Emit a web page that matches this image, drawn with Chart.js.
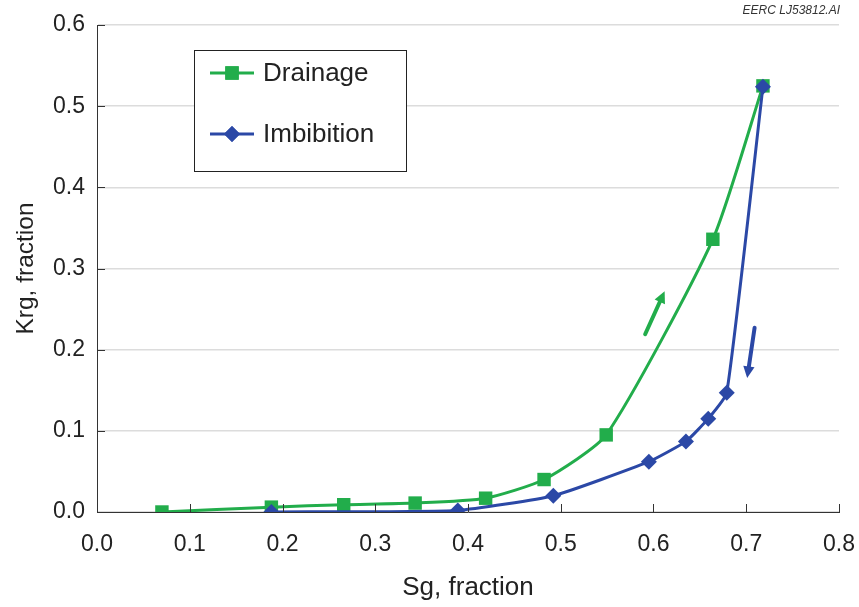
<!DOCTYPE html>
<html lang="en">
<head>
    <meta charset="UTF-8">
    <title>Krg vs Sg</title>
    <script src="https://cdn.jsdelivr.net/npm/chart.js"></script>
    <style>
        html, body { margin: 0; padding: 0; background: #fff; }
        #wrap { position: relative; width: 859px; height: 607px; }
    </style>
</head>
<body>
    <div id="wrap">
        <canvas id="krgChart" width="859" height="607"></canvas>
    </div>

    <script>
        // Drainage curve (Sg, Krg)
        const drainageSg  = [0.070, 0.188, 0.266, 0.343, 0.419, 0.482, 0.549, 0.664, 0.718];
        const drainageKrg = [0.000, 0.006, 0.009, 0.011, 0.017, 0.040, 0.095, 0.336, 0.525];

        // Imbibition curve (Sg, Krg)
        const imbibitionSg  = [0.188, 0.389, 0.492, 0.595, 0.635, 0.659, 0.679, 0.718];
        const imbibitionKrg = [0.000, 0.002, 0.020, 0.062, 0.087, 0.115, 0.147, 0.524];

        const xTicks = [0.0, 0.1, 0.2, 0.3, 0.4, 0.5, 0.6, 0.7, 0.8];
        const yTicks = [0.0, 0.1, 0.2, 0.3, 0.4, 0.5, 0.6];

        // direction arrows, in data units: [x0, y0, x1, y1]
        const drainageArrow   = [0.591, 0.219, 0.612, 0.272];
        const imbibitionArrow = [0.709, 0.227, 0.701, 0.165];

        const GREEN = '#22ad4b';
        const BLUE = '#2b48a6';
        const FONT = 'Liberation Sans, Arial, sans-serif';

        const toPoints = (xs, ys) => xs.map((x, i) => ({ x: x, y: ys[i] }));

        function drawArrow(ctx, chart, a, color) {
            const xs = chart.scales.x, ys = chart.scales.y;
            const x0 = xs.getPixelForValue(a[0]), y0 = ys.getPixelForValue(a[1]);
            const x1 = xs.getPixelForValue(a[2]), y1 = ys.getPixelForValue(a[3]);
            const ang = Math.atan2(y1 - y0, x1 - x0);
            const head = 13;
            ctx.save();
            ctx.strokeStyle = color;
            ctx.fillStyle = color;
            ctx.lineWidth = 4;
            ctx.lineCap = 'round';
            ctx.beginPath();
            ctx.moveTo(x0, y0);
            ctx.lineTo(x1 - Math.cos(ang) * head * 0.7, y1 - Math.sin(ang) * head * 0.7);
            ctx.stroke();
            ctx.beginPath();
            ctx.moveTo(x1, y1);
            ctx.lineTo(x1 - head * Math.cos(ang - 0.45), y1 - head * Math.sin(ang - 0.45));
            ctx.lineTo(x1 - head * Math.cos(ang + 0.45), y1 - head * Math.sin(ang + 0.45));
            ctx.closePath();
            ctx.fill();
            ctx.restore();
        }

        // inward tick marks, arrows, legend box and figure id
        const extras = {
            id: 'extras',
            afterDatasetsDraw(chart) {
                const ctx = chart.ctx;
                const area = chart.chartArea;
                const xs = chart.scales.x, ys = chart.scales.y;

                ctx.save();
                ctx.strokeStyle = '#333';
                ctx.lineWidth = 1;
                xTicks.forEach(v => {
                    if (v === 0) return;
                    const px = Math.round(xs.getPixelForValue(v)) + 0.5;
                    ctx.beginPath();
                    ctx.moveTo(px, area.bottom);
                    ctx.lineTo(px, area.bottom - 8);
                    ctx.stroke();
                });
                yTicks.forEach(v => {
                    if (v === 0) return;
                    const py = Math.round(ys.getPixelForValue(v)) + 0.5;
                    ctx.beginPath();
                    ctx.moveTo(area.left, py);
                    ctx.lineTo(area.left + 8, py);
                    ctx.stroke();
                });
                ctx.restore();

                drawArrow(ctx, chart, drainageArrow, GREEN);
                drawArrow(ctx, chart, imbibitionArrow, BLUE);

                // legend box
                ctx.save();
                ctx.fillStyle = '#fff';
                ctx.fillRect(194, 50, 212, 121);
                ctx.strokeStyle = '#222';
                ctx.lineWidth = 1;
                ctx.strokeRect(194.5, 50.5, 212, 121);

                const rows = [
                    { label: 'Drainage', color: GREEN, style: 'rect', r: 9.5, y: 73 },
                    { label: 'Imbibition', color: BLUE, style: 'rectRot', r: 8, y: 134 }
                ];
                rows.forEach(row => {
                    ctx.strokeStyle = row.color;
                    ctx.lineWidth = 3;
                    ctx.beginPath();
                    ctx.moveTo(210, row.y);
                    ctx.lineTo(254, row.y);
                    ctx.stroke();
                    ctx.fillStyle = row.color;
                    Chart.helpers.drawPoint(ctx, { pointStyle: row.style, radius: row.r, borderWidth: 0 }, 232, row.y);
                    ctx.fill();
                    ctx.fillStyle = '#222';
                    ctx.font = '26px ' + FONT;
                    ctx.textBaseline = 'middle';
                    ctx.textAlign = 'left';
                    ctx.fillText(row.label, 263, row.y + 1);
                });

                ctx.font = 'italic 12px ' + FONT;
                ctx.fillStyle = '#333';
                ctx.textAlign = 'right';
                ctx.textBaseline = 'middle';
                ctx.fillText('EERC LJ53812.AI', 840, 11);
                ctx.restore();
            }
        };

        const ctx = document.getElementById('krgChart').getContext('2d');
        const krgChart = new Chart(ctx, {
            type: 'scatter',
            data: {
                datasets: [
                    {
                        label: 'Drainage',
                        data: toPoints(drainageSg, drainageKrg),
                        showLine: true,
                        borderColor: GREEN,
                        backgroundColor: GREEN,
                        borderWidth: 3,
                        pointStyle: 'rect',
                        pointRadius: 9.5,
                        pointBorderWidth: 0,
                        tension: 0.2,
                        order: 1
                    },
                    {
                        label: 'Imbibition',
                        data: toPoints(imbibitionSg, imbibitionKrg),
                        showLine: true,
                        borderColor: BLUE,
                        backgroundColor: BLUE,
                        borderWidth: 3,
                        pointStyle: 'rectRot',
                        pointRadius: 8,
                        pointBorderWidth: 0,
                        tension: 0.15,
                        order: 0
                    }
                ]
            },
            options: {
                responsive: false,
                animation: false,
                layout: { padding: { top: 25, right: 20, left: 0, bottom: 0 } },
                plugins: {
                    legend: { display: false },
                    tooltip: { enabled: false }
                },
                scales: {
                    x: {
                        type: 'linear',
                        min: 0,
                        max: 0.8,
                        afterBuildTicks: s => { s.ticks = xTicks.map(v => ({ value: v })); },
                        afterFit: s => { s.height = 95; s.paddingLeft = 0; s.paddingRight = 0; },
                        ticks: {
                            padding: 19,
                            color: '#222',
                            font: { family: FONT, size: 23 },
                            callback: v => v.toFixed(1)
                        },
                        grid: { display: false, drawTicks: false },
                        border: { color: '#333', width: 1 },
                        title: {
                            display: true,
                            text: 'Sg, fraction',
                            color: '#222',
                            font: { family: FONT, size: 26 },
                            padding: { top: 17 }
                        }
                    },
                    y: {
                        type: 'linear',
                        min: 0,
                        max: 0.6,
                        afterBuildTicks: s => { s.ticks = yTicks.map(v => ({ value: v })); },
                        afterFit: s => { s.width = 97; s.paddingTop = 0; s.paddingBottom = 0; },
                        ticks: {
                            padding: 12,
                            color: '#222',
                            font: { family: FONT, size: 23 },
                            callback: v => v.toFixed(1)
                        },
                        grid: { color: '#dcdcdc', lineWidth: 1.5, drawTicks: false },
                        border: { color: '#333', width: 1 },
                        title: {
                            display: true,
                            text: 'Krg, fraction',
                            color: '#222',
                            font: { family: FONT, size: 24.5 },
                            padding: { top: 12, bottom: 8 }
                        }
                    }
                }
            },
            plugins: [extras]
        });
    </script>
</body>
</html>
